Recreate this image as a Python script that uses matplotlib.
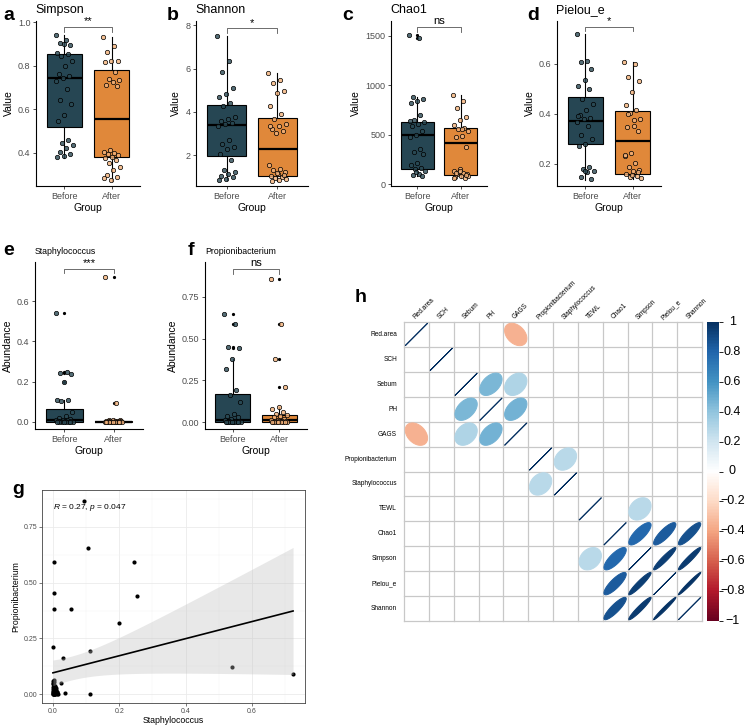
import numpy as np
import matplotlib as mpl
import matplotlib.pyplot as plt
from matplotlib.colors import LinearSegmentedColormap, Normalize, to_rgba
from matplotlib.patches import Polygon
from matplotlib.transforms import blended_transform_factory

plt.rcParams['font.family'] = ['Liberation Sans', 'DejaVu Sans']
plt.rcParams['mathtext.fontset'] = 'custom'
plt.rcParams['mathtext.rm'] = 'Liberation Sans'
plt.rcParams['mathtext.it'] = 'Liberation Sans:italic'

W, H = 746, 726

groups = ["Before", "After"]
box_fill = ["#264653", "#E0883A"]
point_fill = ["#2B4A55", "#F4B27A"]

# ---- a: Simpson
simpson_before = [0.943, 0.917, 0.904, 0.897, 0.900, 0.858, 0.853, 0.846, 0.820, 0.797, 0.763,
                  0.754, 0.743, 0.731, 0.693, 0.641, 0.625, 0.575, 0.544, 0.460, 0.444, 0.434,
                  0.421, 0.406, 0.394, 0.386, 0.379]
simpson_after = [0.930, 0.889, 0.861, 0.823, 0.820, 0.815, 0.769, 0.740, 0.733, 0.723, 0.713,
                 0.705, 0.414, 0.406, 0.398, 0.394, 0.389, 0.383, 0.375, 0.368, 0.352, 0.337,
                 0.322, 0.299, 0.291, 0.276, 0.285]
# whislo, q1, median, q3, whishi
simpson_box = [[0.375, 0.52, 0.745, 0.855, 0.94], [0.27, 0.38, 0.555, 0.78, 0.93]]

# ---- b: Shannon
shannon_before = [7.52, 6.36, 5.86, 5.12, 4.82, 4.70, 4.39, 4.26, 3.74, 3.69, 3.58, 3.49, 3.43,
                  3.33, 2.68, 2.53, 2.37, 2.26, 2.03, 1.75, 1.29, 1.21, 1.13, 1.05, 0.98, 0.90, 0.85]
shannon_after = [5.81, 5.47, 5.35, 4.98, 4.85, 4.29, 3.88, 3.69, 3.43, 3.33, 3.22, 3.10, 3.02,
                 1.52, 1.36, 1.29, 1.21, 1.13, 1.05, 1.00, 0.95, 0.90, 0.85, 0.82, 1.08, 1.18, 3.36]
shannon_box = [[0.85, 1.95, 3.38, 4.32, 7.5], [0.82, 1.05, 2.28, 3.72, 5.81]]

# ---- c: Chao1
chao1_before = [1510, 1476, 879, 862, 845, 821, 700, 648, 631, 603, 586, 534, 493, 476, 355, 321,
                303, 217, 190, 166, 148, 131, 103, 90, 79, 120, 640]
chao1_after = [900, 838, 769, 676, 648, 597, 569, 552, 534, 486, 476, 372, 148, 131, 114, 103, 97,
               86, 72, 62, 120, 80, 560, 110, 92, 130, 66]
chao1_box = [[79, 150, 500, 625, 879], [62, 90, 420, 565, 900]]
chao1_fliers = [[1476, 1510], []]

# ---- d: Pielou_e
pielou_before = [0.720, 0.611, 0.607, 0.577, 0.536, 0.512, 0.498, 0.457, 0.437, 0.414, 0.393,
                 0.384, 0.378, 0.366, 0.352, 0.314, 0.298, 0.277, 0.271, 0.186, 0.178, 0.171,
                 0.165, 0.145, 0.139, 0.172, 0.390]
pielou_after = [0.607, 0.597, 0.547, 0.529, 0.486, 0.434, 0.414, 0.403, 0.380, 0.352, 0.346,
                0.332, 0.244, 0.230, 0.203, 0.185, 0.176, 0.169, 0.158, 0.152, 0.146, 0.141,
                0.375, 0.400, 0.165, 0.155, 0.235]
pielou_box = [[0.135, 0.28, 0.372, 0.465, 0.72], [0.14, 0.16, 0.292, 0.41, 0.607]]

# ---- e: Staphylococcus
staph_before = [0.54, 0.25, 0.245, 0.24, 0.20, 0.11, 0.108, 0.105, 0.05, 0.03, 0.02, 0.015, 0.012,
                0.01, 0.008, 0.006, 0.005, 0.004, 0.003, 0.002, 0.002, 0.001, 0.001, 0.0, 0.0,
                0.0, 0.0]
staph_after = [0.72, 0.095, 0.012, 0.01, 0.008, 0.007, 0.006, 0.005, 0.004, 0.004, 0.003, 0.003,
               0.002, 0.002, 0.002, 0.001, 0.001, 0.001, 0.001, 0.0, 0.0, 0.0, 0.0, 0.0, 0.0,
               0.0, 0.0]
staph_box = [[0.0, 0.0, 0.008, 0.065, 0.11], [0.0, 0.0, 0.001, 0.004, 0.012]]
staph_fliers = [[0.20, 0.245, 0.25, 0.54], [0.095, 0.72]]

# ---- f: Propionibacterium
propi_before = [0.65, 0.59, 0.45, 0.445, 0.38, 0.32, 0.19, 0.16, 0.12, 0.05, 0.035, 0.03, 0.02,
                0.01, 0.008, 0.005, 0.004, 0.003, 0.002, 0.001, 0.001, 0.0, 0.0, 0.0, 0.0, 0.0, 0.0]
propi_after = [0.86, 0.59, 0.38, 0.21, 0.09, 0.08, 0.06, 0.05, 0.04, 0.035, 0.03, 0.02, 0.015,
               0.01, 0.008, 0.006, 0.005, 0.004, 0.003, 0.002, 0.001, 0.001, 0.0, 0.0, 0.0, 0.0, 0.0]
propi_box = [[0.0, 0.0, 0.01, 0.168, 0.38], [0.0, 0.0, 0.01, 0.045, 0.09]]
propi_fliers = [[0.445, 0.45, 0.59, 0.65], [0.21, 0.38, 0.59, 0.86]]

# ---- g: scatter Staphylococcus vs Propionibacterium
g_staph = [0.095, 0.105, 0.003, 0.243, 0.252, 0.003, 0.002, 0.054, 0.199, 0.0, 0.113, 0.03, 0.54,
           0.724, 0.024, 0.035, 0.113,
           0.0, 0.001, 0.002, 0.003, 0.004, 0.005, 0.006, 0.008, 0.01, 0.012, 0.0, 0.001, 0.002,
           0.003, 0.005, 0.007, 0.009, 0.011, 0.0, 0.002, 0.004, 0.006, 0.008, 0.001, 0.003, 0.0,
           0.002, 0.005, 0.01, 0.013, 0.0, 0.001, 0.004, 0.007, 0.002, 0.0, 0.015]
g_propi = [0.868, 0.657, 0.591, 0.593, 0.442, 0.452, 0.382, 0.382, 0.317, 0.21, 0.195, 0.16, 0.12,
           0.088, 0.051, 0.003, 0.0,
           0.0, 0.0, 0.002, 0.005, 0.01, 0.0, 0.015, 0.003, 0.02, 0.008, 0.03, 0.045, 0.055,
           0.04, 0.025, 0.012, 0.006, 0.0, 0.06, 0.035, 0.018, 0.001, 0.028, 0.05, 0.0, 0.015,
           0.008, 0.038, 0.004, 0.01, 0.022, 0.01, 0.002, 0.033, 0.065, 0.005, 0.0]
g_label = r"$R$ = 0.27, $p$ = 0.047"

# ---- h: correlation matrix (only significant pairs shown)
corr_labels = ["Red.area", "SCH", "Sebum", "PH", "GAGS", "Propionibacterium", "Staphylococcus",
               "TEWL", "Chao1", "Simpson", "Pielou_e", "Shannon"]
corr_pairs = [
    ("Red.area", "GAGS", -0.36),
    ("Sebum", "PH", 0.45),
    ("Sebum", "GAGS", 0.30),
    ("PH", "GAGS", 0.47),
    ("Propionibacterium", "Staphylococcus", 0.27),
    ("TEWL", "Simpson", 0.27),
    ("Chao1", "Simpson", 0.78),
    ("Chao1", "Pielou_e", 0.83),
    ("Chao1", "Shannon", 0.87),
    ("Simpson", "Pielou_e", 0.94),
    ("Simpson", "Shannon", 0.95),
    ("Pielou_e", "Shannon", 0.98),
]
cbar_ticks = [-1, -0.8, -0.6, -0.4, -0.2, 0, 0.2, 0.4, 0.6, 0.8, 1]

corr_cmap = LinearSegmentedColormap.from_list(
    "RdBu_corr", ["#67001F", "#B2182B", "#D6604D", "#F4A582", "#FDDBC7", "#FFFFFF",
                  "#D1E5F0", "#92C5DE", "#4393C3", "#2166AC", "#053061"], N=200)


def px_axes(fig, left, top, right, bottom):
    return fig.add_axes([left / W, 1 - bottom / H, (right - left) / W, (bottom - top) / H])


def fig_text(fig, x, y, s, **kw):
    fig.text(x / W, 1 - y / H, s, **kw)


def box_panel(ax, before, after, box, fliers, ylim, yticks, yticklabels, sig, sig_y, sig_drop):
    stats = []
    for b, fl in zip(box, fliers):
        stats.append({"whislo": b[0], "q1": b[1], "med": b[2], "q3": b[3], "whishi": b[4],
                      "fliers": fl})
    parts = ax.bxp(stats, positions=[1, 2], widths=0.75, patch_artist=True, showcaps=False,
                   boxprops=dict(edgecolor="black", linewidth=0.8),
                   medianprops=dict(color="black", linewidth=1.6),
                   whiskerprops=dict(color="black", linewidth=0.8),
                   flierprops=dict(marker="o", markersize=1.3, markerfacecolor="black",
                                   markeredgecolor="black"))
    for patch, c in zip(parts["boxes"], box_fill):
        patch.set_facecolor(c)

    for i, vals in enumerate([before, after]):
        n = len(vals)
        jit = ((np.arange(n) * 0.6180339887) % 1 - 0.5) * 0.36
        ax.scatter(i + 1 + jit, vals, s=10, facecolor=to_rgba(point_fill[i], 0.8),
                   edgecolor="black", linewidth=0.5, zorder=3)

    ax.plot([1, 1, 2, 2], [sig_y - sig_drop, sig_y, sig_y, sig_y - sig_drop],
            color="#555555", lw=0.6, clip_on=False)
    ax.annotate(sig, (1.5, sig_y), xytext=(0, 0.5), textcoords="offset points",
                ha="center", va="bottom", fontsize=8, annotation_clip=False)

    ax.set_xlim(0.4, 2.6)
    ax.set_ylim(*ylim)
    ax.set_xticks([1, 2])
    ax.set_xticklabels(groups)
    ax.set_yticks(yticks)
    ax.set_yticklabels(yticklabels)
    for side in ["top", "right"]:
        ax.spines[side].set_visible(False)
    for side in ["left", "bottom"]:
        ax.spines[side].set_linewidth(0.8)
    ax.tick_params(axis="both", length=2.5, width=0.6, color="#333333", labelsize=6.5,
                   labelcolor="#4D4D4D", pad=1.5)
    ax.set_xlabel("Group", fontsize=7.5, labelpad=2)


def ellipse_xy(r, n=99):
    k = np.linspace(0, 2 * np.pi, n)
    a = np.arccos(np.clip(r, -1, 1)) / 2
    return 0.9 * np.cos(k + a) / 2, 0.9 * np.cos(k - a) / 2


def main():
    fig = plt.figure(figsize=(W / 100, H / 100), dpi=100)

    # ---------------- top row a-d
    top_specs = [
        ("a", "Simpson", (3, 36, 140), simpson_before, simpson_after, simpson_box, [[], []],
         (0.248, 1.005), [0.4, 0.6, 0.8, 1.0], ["0.4", "0.6", "0.8", "1.0"], "**", 0.977, 0.022),
        ("b", "Shannon", (167, 196, 308), shannon_before, shannon_after, shannon_box, [[], []],
         (0.57, 8.2), [2, 4, 6, 8], ["2", "4", "6", "8"], "*", 7.86, 0.23),
        ("c", "Chao1", (342, 391, 487), chao1_before, chao1_after, chao1_box, chao1_fliers,
         (-20, 1650), [0, 500, 1000, 1500], ["0", "500", "1000", "1500"], "ns", 1592, 50),
        ("d", "Pielou_e", (527, 557, 661), pielou_before, pielou_after, pielou_box, [[], []],
         (0.11, 0.77), [0.2, 0.4, 0.6], ["0.2", "0.4", "0.6"], "*", 0.747, 0.017),
    ]
    for letter, title, (lx, x0, x1), bef, aft, box, fl, ylim, yt, ytl, sig, sy, sd in top_specs:
        ax = px_axes(fig, x0, 21, x1, 186)
        box_panel(ax, bef, aft, box, fl, ylim, yt, ytl, sig, sy, sd)
        ax.set_ylabel("Value", fontsize=7.5, labelpad=3)
        fig_text(fig, lx, 20, letter, fontsize=14, fontweight="bold", va="baseline")
        fig_text(fig, x0 - 1, 13, title, fontsize=9, va="baseline")

    # ---------------- e, f
    mid_specs = [
        ("e", "Staphylococcus", (3, 35, 143), staph_before, staph_after, staph_box, staph_fliers,
         (-0.035, 0.795), [0.0, 0.2, 0.4, 0.6], ["0.0", "0.2", "0.4", "0.6"], "***", 0.76, 0.02),
        ("f", "Propionibacterium", (188, 205, 307), propi_before, propi_after, propi_box,
         propi_fliers, (-0.042, 0.96), [0.0, 0.25, 0.5, 0.75], ["0.00", "0.25", "0.50", "0.75"],
         "ns", 0.918, 0.03),
    ]
    for letter, title, (lx, x0, x1), bef, aft, box, fl, ylim, yt, ytl, sig, sy, sd in mid_specs:
        ax = px_axes(fig, x0, 262, x1, 429)
        box_panel(ax, bef, aft, box, fl, ylim, yt, ytl, sig, sy, sd)
        ax.set_ylabel("Abundance", fontsize=7.5, labelpad=3)
        fig_text(fig, lx, 255, letter, fontsize=14, fontweight="bold", va="baseline")
        fig_text(fig, x0, 254, title, fontsize=6.3, va="baseline")

    # ---------------- g scatter with regression
    ax = px_axes(fig, 42, 490, 305, 703)
    x = np.array(g_staph)
    y = np.array(g_propi)
    ax.scatter(x, y, s=9, color="black", linewidth=0, zorder=2)
    n = len(x)
    slope, intercept = np.polyfit(x, y, 1)
    xs = np.linspace(x.min(), x.max(), 100)
    fit = intercept + slope * xs
    resid = y - (intercept + slope * x)
    s_err = np.sqrt(np.sum(resid ** 2) / (n - 2))
    sxx = np.sum((x - x.mean()) ** 2)
    half = 2.007 * s_err * np.sqrt(1 / n + (xs - x.mean()) ** 2 / sxx)
    ax.fill_between(xs, fit - half, fit + half, color="#BEBEBE", alpha=0.35, lw=0, zorder=3)
    ax.plot(xs, fit, color="black", lw=1.2, zorder=4)
    ax.text(0.0, 0.837, g_label, fontsize=6, va="center", ha="left")
    ax.set_xlim(-0.033, 0.76)
    ax.set_ylim(-0.04, 0.916)
    ax.set_xticks([0, 0.2, 0.4, 0.6])
    ax.set_xticklabels(["0.0", "0.2", "0.4", "0.6"])
    ax.set_xticks([0.1, 0.3, 0.5, 0.7], minor=True)
    ax.set_yticks([0, 0.25, 0.5, 0.75])
    ax.set_yticklabels(["0.00", "0.25", "0.50", "0.75"])
    ax.set_yticks([0.125, 0.375, 0.625, 0.875], minor=True)
    ax.grid(which="major", color="#EBEBEB", lw=0.6)
    ax.grid(which="minor", color="#F3F3F3", lw=0.35)
    ax.set_axisbelow(True)
    for sp in ax.spines.values():
        sp.set_color("#444444")
        sp.set_linewidth(0.6)
    ax.tick_params(which="major", length=2, width=0.5, color="#444444", labelsize=5,
                   labelcolor="#4D4D4D", pad=1.5)
    ax.tick_params(which="minor", length=0)
    ax.set_xlabel("Staphylococcus", fontsize=6.3, labelpad=1)
    ax.set_ylabel("Propionibacterium", fontsize=6.3, labelpad=2)
    fig_text(fig, 12, 494, "g", fontsize=14, fontweight="bold", va="baseline")

    # ---------------- h correlation plot
    nlab = len(corr_labels)
    mat = np.full((nlab, nlab), np.nan)
    for i in range(nlab):
        mat[i, i] = 1.0
    for a, b, r in corr_pairs:
        i, j = corr_labels.index(a), corr_labels.index(b)
        mat[i, j] = r
        mat[j, i] = r

    ax = px_axes(fig, 404, 322, 702, 621)
    ax.set_xlim(0.5, nlab + 0.5)
    ax.set_ylim(0.5, nlab + 0.5)
    ax.axis("off")
    norm = Normalize(-1, 1)
    for i in range(nlab):
        for j in range(nlab):
            r = mat[i, j]
            if np.isnan(r):
                continue
            ex, ey = ellipse_xy(r)
            cx, cy = j + 1, nlab - i
            c = corr_cmap(norm(r))
            ax.add_patch(Polygon(np.column_stack([ex + cx, ey + cy]), closed=True,
                                 facecolor=c, edgecolor=c, lw=0.7, zorder=2))
    for k in range(nlab + 1):
        ax.plot([k + 0.5, k + 0.5], [0.5, nlab + 0.5], color="#C8C8C8", lw=0.9, zorder=1,
                clip_on=False)
        ax.plot([0.5, nlab + 0.5], [k + 0.5, k + 0.5], color="#C8C8C8", lw=0.9, zorder=1,
                clip_on=False)
    for i, lab in enumerate(corr_labels):
        ax.text(0.22, nlab - i, lab, ha="right", va="center", fontsize=4.7)
        ax.text(i + 1, nlab + 0.55, lab, ha="left", va="bottom", fontsize=4.7, rotation=45,
                rotation_mode="anchor")
    fig_text(fig, 355, 302, "h", fontsize=14, fontweight="bold", va="baseline")

    cax = px_axes(fig, 707, 322, 719, 621)
    cb = mpl.colorbar.ColorbarBase(cax, cmap=corr_cmap, norm=norm, orientation="vertical")
    cb.outline.set_visible(False)
    cb.set_ticks(cbar_ticks)
    cb.set_ticklabels([""] * len(cbar_ticks))
    cax.tick_params(length=3, width=0.6, color="black")
    trans = blended_transform_factory(cax.transAxes, cax.transData)
    for t in cbar_ticks:
        lab = f"{t:g}".replace("-", "\u2212")
        cax.text(2.1, t, lab, transform=trans, ha="center", va="center", fontsize=9)

    fig.savefig("out.png", dpi=100)


if __name__ == "__main__":
    main()
